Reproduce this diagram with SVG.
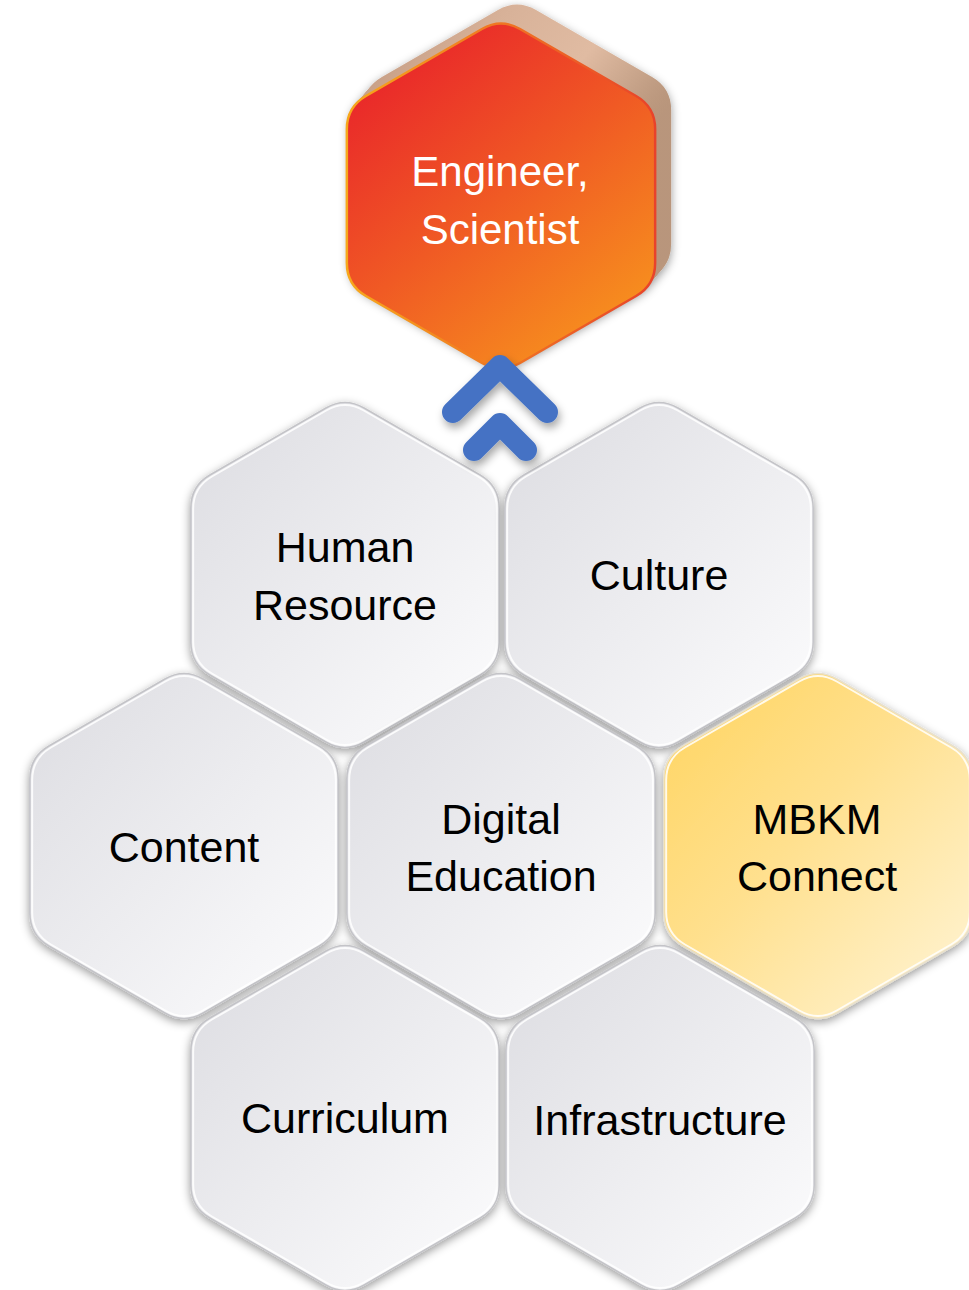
<svg xmlns="http://www.w3.org/2000/svg" xmlns:xlink="http://www.w3.org/1999/xlink" width="969" height="1290" viewBox="0 0 969 1290">
  <style>
    .lbl { font-family: "Liberation Sans", Arial, sans-serif; font-size: 43px; fill: #000; text-anchor: middle; }
    .lblw { font-family: "Liberation Sans", Arial, sans-serif; font-size: 42px; fill: #fff; text-anchor: middle; }
    .grey { fill: url(#gGrey); stroke: #c4c4c8; stroke-width: 1.5; filter: url(#sh); }
    .gold { fill: url(#gGold); stroke: #e8e0cc; stroke-width: 1.5; filter: url(#sh); }
    .hl { fill: none; stroke: #ffffff; stroke-width: 2; opacity: 0.85; }
    .chev { fill: none; stroke: #4472C4; stroke-width: 22; stroke-linecap: round; stroke-linejoin: round; }
  </style>
  <defs>
    <path id="hex" d="M19.05,-167 L135.1,-100 Q154.15,-89 154.15,-67 L154.15,67 Q154.15,89 135.1,100 L19.05,167 Q0,178 -19.05,167 L-135.1,100 Q-154.15,89 -154.15,67 L-154.15,-67 Q-154.15,-89 -135.1,-100 L-19.05,-167 Q0,-178 19.05,-167 Z"/>
    <linearGradient id="gGrey" x1="0" y1="0" x2="1" y2="1">
      <stop offset="0" stop-color="#dcdce1"/>
      <stop offset="1" stop-color="#fdfdfe"/>
    </linearGradient>
    <linearGradient id="gGold" x1="0" y1="0" x2="1" y2="1">
      <stop offset="0" stop-color="#ffd45e"/>
      <stop offset="0.45" stop-color="#ffe08e"/>
      <stop offset="1" stop-color="#fff5d8"/>
    </linearGradient>
    <linearGradient id="gOrange" x1="0.15" y1="0" x2="0.85" y2="1">
      <stop offset="0" stop-color="#e81f2b"/>
      <stop offset="0.5" stop-color="#f05a24"/>
      <stop offset="1" stop-color="#f8981d"/>
    </linearGradient>
    <linearGradient id="gOrangeStroke" x1="0" y1="0" x2="1" y2="0">
      <stop offset="0" stop-color="#f7a81b"/>
      <stop offset="1" stop-color="#e8432a"/>
    </linearGradient>
    <linearGradient id="gTan" x1="0" y1="0" x2="1" y2="0">
      <stop offset="0" stop-color="#c8a087"/>
      <stop offset="0.75" stop-color="#e0bba2"/>
      <stop offset="1" stop-color="#b8957b"/>
    </linearGradient>
    <filter id="sh" x="-20%" y="-20%" width="140%" height="140%">
      <feDropShadow dx="0" dy="3" stdDeviation="5" flood-color="#000" flood-opacity="0.4"/>
    </filter>
    <filter id="shC" x="-30%" y="-30%" width="160%" height="160%">
      <feDropShadow dx="2" dy="5" stdDeviation="4" flood-color="#000" flood-opacity="0.35"/>
    </filter>
  </defs>

  <rect width="969" height="1290" fill="#ffffff"/>

  <g id="hr" transform="translate(345,575)">
    <use href="#hex" class="grey"/>
    <use href="#hex" class="hl" transform="scale(0.985)"/>
    <text class="lbl" x="0" y="-13">Human</text>
    <text class="lbl" x="0" y="45">Resource</text>
  </g>
  <g id="culture" transform="translate(659,575)">
    <use href="#hex" class="grey"/>
    <use href="#hex" class="hl" transform="scale(0.985)"/>
    <text class="lbl" x="0" y="15">Culture</text>
  </g>
  <g id="content" transform="translate(184,846)">
    <use href="#hex" class="grey"/>
    <use href="#hex" class="hl" transform="scale(0.985)"/>
    <text class="lbl" x="0" y="16">Content</text>
  </g>
  <g id="digital" transform="translate(501,846)">
    <use href="#hex" class="grey"/>
    <use href="#hex" class="hl" transform="scale(0.985)"/>
    <text class="lbl" x="0" y="-12">Digital</text>
    <text class="lbl" x="0" y="45">Education</text>
  </g>
  <g id="mbkm" transform="translate(818,846)">
    <use href="#hex" class="gold"/>
    <use href="#hex" class="hl" transform="scale(0.985)"/>
    <text class="lbl" x="-1" y="-12">MBKM</text>
    <text class="lbl" x="-1" y="45">Connect</text>
  </g>
  <g id="curriculum" transform="translate(345,1118)">
    <use href="#hex" class="grey"/>
    <use href="#hex" class="hl" transform="scale(0.985)"/>
    <text class="lbl" x="0" y="15">Curriculum</text>
  </g>
  <g id="infrastructure" transform="translate(660,1118)">
    <use href="#hex" class="grey"/>
    <use href="#hex" class="hl" transform="scale(0.985)"/>
    <text class="lbl" x="0" y="17">Infrastructure</text>
  </g>

  <g id="engineer" transform="translate(501,196)">
    <g fill="url(#gTan)" filter="url(#sh)">
      <use href="#hex" transform="translate(16,-19)"/>
      <use href="#hex" transform="translate(14,-16.6)"/>
      <use href="#hex" transform="translate(12,-14.2)"/>
      <use href="#hex" transform="translate(10,-11.9)"/>
      <use href="#hex" transform="translate(8,-9.5)"/>
      <use href="#hex" transform="translate(6,-7.1)"/>
      <use href="#hex" transform="translate(4,-4.7)"/>
      <use href="#hex" transform="translate(2,-2.4)"/>
    </g>
    <use href="#hex" fill="url(#gOrange)" stroke="url(#gOrangeStroke)" stroke-width="2.5"/>
    <text class="lblw" x="-1" y="-10">Engineer,</text>
    <text class="lblw" x="-1" y="48">Scientist</text>
  </g>

  <g id="connectors" filter="url(#shC)">
    <polyline class="chev" points="453,412 500,366 547,412"/>
    <polyline class="chev" points="474,450 500,424 526,450"/>
  </g>
</svg>
